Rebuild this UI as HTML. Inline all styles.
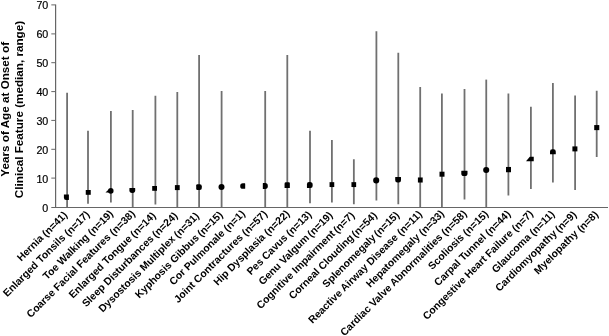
<!DOCTYPE html>
<html><head><meta charset="utf-8"><title>Chart</title>
<style>
html,body{margin:0;padding:0;background:#fff;}
body{width:609px;height:336px;overflow:hidden;}
svg{display:block;}
text{font-family:"Liberation Sans",sans-serif;fill:#000;}
.tk{font-size:10.7px;fill:#000;stroke:#000;stroke-width:0.2px;}
.b{font-size:10.4px;font-weight:bold;}
.t{font-size:11.7px;font-weight:bold;}
</style></head><body>
<svg width="609" height="336" viewBox="0 0 609 336">
<rect width="609" height="336" fill="#fff"/>
<g stroke="#707070" stroke-width="1.8" fill="none">
<line x1="67.1" y1="92.75" x2="67.1" y2="208.0"/>
<line x1="88.0" y1="130.75" x2="88.0" y2="203.75"/>
<line x1="110.9" y1="111" x2="110.9" y2="202.5"/>
<line x1="132.7" y1="110" x2="132.7" y2="208.0"/>
<line x1="155.4" y1="95.75" x2="155.4" y2="204.5"/>
<line x1="177.3" y1="92" x2="177.3" y2="207.5"/>
<line x1="199.1" y1="55" x2="199.1" y2="207.5"/>
<line x1="221.6" y1="91" x2="221.6" y2="207.5"/>
<line x1="265.2" y1="91" x2="265.2" y2="207.5"/>
<line x1="287.3" y1="55" x2="287.3" y2="207.5"/>
<line x1="310" y1="130.75" x2="310" y2="203.25"/>
<line x1="331.9" y1="140" x2="331.9" y2="202.5"/>
<line x1="353.85" y1="159.25" x2="353.85" y2="204.25"/>
<line x1="376.4" y1="31.25" x2="376.4" y2="200.5"/>
<line x1="398.3" y1="52.75" x2="398.3" y2="204.25"/>
<line x1="420.2" y1="87" x2="420.2" y2="208.0"/>
<line x1="441.9" y1="93.5" x2="441.9" y2="207.5"/>
<line x1="464.5" y1="89" x2="464.5" y2="199.5"/>
<line x1="486.25" y1="79.6" x2="486.25" y2="208.0"/>
<line x1="508.4" y1="93.5" x2="508.4" y2="195.5"/>
<line x1="530.9" y1="106.75" x2="530.9" y2="189"/>
<line x1="552.9" y1="83" x2="552.9" y2="182.5"/>
<line x1="575.1" y1="95.5" x2="575.1" y2="190"/>
<line x1="596.7" y1="90.75" x2="596.7" y2="157"/>
</g>
<g stroke="#666" stroke-width="1" fill="none">
<line x1="55.6" y1="4.4" x2="55.6" y2="207.5" stroke-width="1.2"/>
<line x1="51.3" y1="207.5" x2="608" y2="207.5"/>
<line x1="51.3" y1="4.9" x2="55.5" y2="4.9"/>
<line x1="51.3" y1="33.9" x2="55.5" y2="33.9"/>
<line x1="51.3" y1="62.7" x2="55.5" y2="62.7"/>
<line x1="51.3" y1="91.6" x2="55.5" y2="91.6"/>
<line x1="51.3" y1="120.4" x2="55.5" y2="120.4"/>
<line x1="51.3" y1="149.3" x2="55.5" y2="149.3"/>
<line x1="51.3" y1="178.1" x2="55.5" y2="178.1"/>
</g>
<text class="tk" x="48.3" y="9.30" text-anchor="end">70</text>
<text class="tk" x="48.3" y="38.30" text-anchor="end">60</text>
<text class="tk" x="48.3" y="67.10" text-anchor="end">50</text>
<text class="tk" x="48.3" y="96.00" text-anchor="end">40</text>
<text class="tk" x="48.3" y="124.80" text-anchor="end">30</text>
<text class="tk" x="48.3" y="153.70" text-anchor="end">20</text>
<text class="tk" x="48.3" y="182.50" text-anchor="end">10</text>
<text class="tk" x="48.3" y="211.50" text-anchor="end">0</text>
<text class="t" transform="translate(9.4,109.3) rotate(-90)" text-anchor="middle">Years of Age at Onset of</text>
<text class="t" transform="translate(22.9,109.5) rotate(-90)" text-anchor="middle">Clinical Feature (median, range)</text>
<g fill="#000">
<path d="M63.90 194.45 L68.90 194.45 L68.90 199.55 A0.5 0.5 0 0 1 68.40 200.05 L66.10 200.05 A2.2 2.2 0 0 1 63.90 197.85 L63.90 194.45 Z"/>
<path d="M85.75 190.00 L90.75 190.00 L90.75 194.80 L85.75 194.80 L85.75 190.00 Z"/>
<path d="M110.80 188.10 L110.80 188.10 A2.75 2.75 0 0 1 113.55 190.85 L113.55 190.95 A2.75 2.75 0 0 1 110.80 193.70 L110.80 193.70 A2.75 2.75 0 0 1 108.05 190.95 L108.05 190.85 A2.75 2.75 0 0 1 110.80 188.10 Z"/>
<path d="M105.50 192.40 L108.60 189.50 L109.80 192.40 Z"/>
<path d="M129.70 187.90 L134.90 187.90 A0.3 0.3 0 0 1 135.20 188.20 L135.20 190.30 A2.6 2.6 0 0 1 132.60 192.90 L132.00 192.90 A2.6 2.6 0 0 1 129.40 190.30 L129.40 188.20 A0.3 0.3 0 0 1 129.70 187.90 Z"/>
<path d="M152.20 186.00 L157.00 186.00 L157.00 190.80 L152.20 190.80 L152.20 186.00 Z"/>
<path d="M174.90 185.10 L179.70 185.10 L179.70 190.10 L174.90 190.10 L174.90 185.10 Z"/>
<path d="M197.40 184.25 L199.80 184.25 A2.0 2.0 0 0 1 201.80 186.25 L201.80 187.95 A2.0 2.0 0 0 1 199.80 189.95 L197.40 189.95 A1.2 1.2 0 0 1 196.20 188.75 L196.20 185.45 A1.2 1.2 0 0 1 197.40 184.25 Z"/>
<path d="M221.50 184.00 L221.50 184.00 A3.0 3.0 0 0 1 224.50 187.00 L224.50 187.00 A3.0 3.0 0 0 1 221.50 190.00 L221.50 190.00 A3.0 3.0 0 0 1 218.50 187.00 L218.50 187.00 A3.0 3.0 0 0 1 221.50 184.00 Z"/>
<path d="M242.80 183.35 L244.90 183.35 A0.3 0.3 0 0 1 245.20 183.65 L245.20 188.55 A0.3 0.3 0 0 1 244.90 188.85 L242.80 188.85 A2.6 2.6 0 0 1 240.20 186.25 L240.20 185.95 A2.6 2.6 0 0 1 242.80 183.35 Z"/>
<path d="M263.10 183.05 L265.20 183.05 A2.6 2.6 0 0 1 267.80 185.65 L267.80 186.35 A2.6 2.6 0 0 1 265.20 188.95 L263.10 188.95 A0.3 0.3 0 0 1 262.80 188.65 L262.80 183.35 A0.3 0.3 0 0 1 263.10 183.05 Z"/>
<path d="M286.00 182.37 L288.88 182.37 A0.96 0.96 0 0 1 289.84 183.33 L289.84 187.74 A0.288 0.288 0 0 1 289.55 188.03 L284.85 188.03 A0.288 0.288 0 0 1 284.56 187.74 L284.56 183.81 A1.44 1.44 0 0 1 286.00 182.37 Z"/>
<path d="M308.95 182.10 L310.05 182.10 A2.6 2.6 0 0 1 312.65 184.70 L312.65 185.90 A2.0 2.0 0 0 1 310.65 187.90 L307.45 187.90 A0.5 0.5 0 0 1 306.95 187.40 L306.95 184.10 A2.0 2.0 0 0 1 308.95 182.10 Z"/>
<path d="M329.55 182.15 L334.25 182.15 L334.25 187.05 L329.55 187.05 L329.55 182.15 Z"/>
<path d="M351.45 182.15 L356.15 182.15 L356.15 187.05 L351.45 187.05 L351.45 182.15 Z"/>
<path d="M376.20 177.35 L376.20 177.35 A3.05 3.05 0 0 1 379.25 180.40 L379.25 180.40 A3.05 3.05 0 0 1 376.20 183.45 L376.20 183.45 A3.05 3.05 0 0 1 373.15 180.40 L373.15 180.40 A3.05 3.05 0 0 1 376.20 177.35 Z"/>
<path d="M395.50 177.05 L400.70 177.05 A0.3 0.3 0 0 1 401.00 177.35 L401.00 180.35 A2.2 2.2 0 0 1 398.80 182.55 L397.40 182.55 A2.2 2.2 0 0 1 395.20 180.35 L395.20 177.35 A0.3 0.3 0 0 1 395.50 177.05 Z"/>
<path d="M417.90 177.46 L422.70 177.46 L422.70 182.54 L417.90 182.54 L417.90 177.46 Z"/>
<path d="M439.50 171.70 L444.50 171.70 L444.50 176.70 L439.50 176.70 L439.50 171.70 Z"/>
<path d="M461.60 170.80 L467.20 170.80 A0.3 0.3 0 0 1 467.50 171.10 L467.50 173.40 A2.6 2.6 0 0 1 464.90 176.00 L463.90 176.00 A2.6 2.6 0 0 1 461.30 173.40 L461.30 171.10 A0.3 0.3 0 0 1 461.60 170.80 Z"/>
<path d="M486.15 167.10 L486.25 167.10 A3.0 3.0 0 0 1 489.25 170.10 L489.25 170.10 A3.0 3.0 0 0 1 486.25 173.10 L486.15 173.10 A3.0 3.0 0 0 1 483.15 170.10 L483.15 170.10 A3.0 3.0 0 0 1 486.15 167.10 Z"/>
<path d="M506.00 166.96 L511.00 166.96 L511.00 172.24 L506.00 172.24 L506.00 166.96 Z"/>
<path d="M526.2 161.00 L529.8 156.65 L533.75 156.65 L533.75 161.25 L526.2 161.25 Z"/>
<path d="M552.23 149.25 L553.57 149.25 A2.2 2.2 0 0 1 555.77 151.45 L555.77 153.95 A0.2 0.2 0 0 1 555.57 154.15 L550.23 154.15 A0.2 0.2 0 0 1 550.02 153.95 L550.02 151.45 A2.2 2.2 0 0 1 552.23 149.25 Z"/>
<path d="M572.40 146.40 L577.40 146.40 L577.40 151.40 L572.40 151.40 L572.40 146.40 Z"/>
<path d="M594.21 125.06 L599.29 125.06 L599.29 130.14 L594.21 130.14 L594.21 125.06 Z"/>
</g>
<g transform="translate(70.00,214.4) rotate(-45)"><text class="b" x="-35.72" y="-1.0" text-anchor="end">Hernia</text><text class="b" x="-2.26" y="-0.5" text-anchor="end">(n=41)</text></g>
<g transform="translate(90.90,214.4) rotate(-45)"><text class="b" x="-34.66" y="-0.6" text-anchor="end">Enlarged Tonsils</text><text class="b" x="-0.85" y="0" text-anchor="end">(n=17)</text></g>
<g transform="translate(113.80,214.4) rotate(-45)"><text class="b" x="-33.81" y="-0.6" text-anchor="end">Toe Walking</text><text class="b" x="0.00" y="0" text-anchor="end">(n=19)</text></g>
<g transform="translate(135.60,214.4) rotate(-45)"><text class="b" x="-33.81" y="-0.6" text-anchor="end">Coarse Facial Features</text><text class="b" x="0.00" y="0" text-anchor="end">(n=38)</text></g>
<g transform="translate(158.30,214.4) rotate(-45)"><text class="b" x="-35.93" y="-0.6" text-anchor="end">Enlarged Tongue</text><text class="b" x="-2.69" y="0" text-anchor="end">(n=14)</text></g>
<g transform="translate(180.20,214.4) rotate(-45)"><text class="b" x="-35.93" y="-0.6" text-anchor="end">Sleep Disturbances</text><text class="b" x="-2.83" y="0" text-anchor="end">(n=24)</text></g>
<g transform="translate(202.00,214.4) rotate(-45)"><text class="b" x="-36.36" y="-0.6" text-anchor="end">Dysostosis Multiplex</text><text class="b" x="-3.11" y="0" text-anchor="end">(n=31)</text></g>
<g transform="translate(224.50,214.4) rotate(-45)"><text class="b" x="-34.52" y="-0.6" text-anchor="end">Kyphosis Gibbus</text><text class="b" x="-1.56" y="0" text-anchor="end">(n=15)</text></g>
<g transform="translate(245.60,214.4) rotate(-45)"><text class="b" x="-28.03" y="-0.6" text-anchor="end">Cor Pulmonale</text><text class="b" x="0.00" y="0" text-anchor="end">(n=1)</text></g>
<g transform="translate(268.10,214.4) rotate(-45)"><text class="b" x="-34.09" y="-0.6" text-anchor="end">Joint Contractures</text><text class="b" x="-0.28" y="0" text-anchor="end">(n=57)</text></g>
<g transform="translate(290.20,214.4) rotate(-45)"><text class="b" x="-33.81" y="-0.6" text-anchor="end">Hip Dysplasia</text><text class="b" x="0.00" y="0" text-anchor="end">(n=22)</text></g>
<g transform="translate(312.90,214.4) rotate(-45)"><text class="b" x="-34.52" y="-0.6" text-anchor="end">Pes Cavus</text><text class="b" x="-1.13" y="0" text-anchor="end">(n=13)</text></g>
<g transform="translate(334.80,214.4) rotate(-45)"><text class="b" x="-34.80" y="-0.6" text-anchor="end">Genu Valgum</text><text class="b" x="-2.12" y="0" text-anchor="end">(n=19)</text></g>
<g transform="translate(356.75,214.4) rotate(-45)"><text class="b" x="-29.02" y="-0.6" text-anchor="end">Cognitive Impairment</text><text class="b" x="-2.26" y="0" text-anchor="end">(n=7)</text></g>
<g transform="translate(379.30,214.4) rotate(-45)"><text class="b" x="-34.80" y="-0.6" text-anchor="end">Corneal Clouding</text><text class="b" x="-2.40" y="0" text-anchor="end">(n=54)</text></g>
<g transform="translate(401.20,214.4) rotate(-45)"><text class="b" x="-34.52" y="-0.6" text-anchor="end">Splenomegaly</text><text class="b" x="-1.84" y="0" text-anchor="end">(n=15)</text></g>
<g transform="translate(423.10,214.4) rotate(-45)"><text class="b" x="-34.23" y="-0.6" text-anchor="end">Reactive Airway Disease</text><text class="b" x="-0.42" y="0" text-anchor="end">(n=11)</text></g>
<g transform="translate(444.80,214.4) rotate(-45)"><text class="b" x="-33.81" y="-0.6" text-anchor="end">Hepatomegaly</text><text class="b" x="0.00" y="0" text-anchor="end">(n=33)</text></g>
<g transform="translate(467.40,214.4) rotate(-45)"><text class="b" x="-33.81" y="-0.6" text-anchor="end">Cardiac Valve Abnormalities</text><text class="b" x="0.00" y="0" text-anchor="end">(n=58)</text></g>
<g transform="translate(489.15,214.4) rotate(-45)"><text class="b" x="-34.09" y="-0.6" text-anchor="end">Scoliosis</text><text class="b" x="-0.28" y="0" text-anchor="end">(n=15)</text></g>
<g transform="translate(511.30,214.4) rotate(-45)"><text class="b" x="-34.09" y="-0.6" text-anchor="end">Carpal Tunnel</text><text class="b" x="-0.28" y="0" text-anchor="end">(n=44)</text></g>
<g transform="translate(533.80,214.4) rotate(-45)"><text class="b" x="-28.03" y="-0.6" text-anchor="end">Congestive Heart Failure</text><text class="b" x="0.00" y="0" text-anchor="end">(n=7)</text></g>
<g transform="translate(555.80,214.4) rotate(-45)"><text class="b" x="-33.81" y="-0.6" text-anchor="end">Glaucoma</text><text class="b" x="-0.71" y="0" text-anchor="end">(n=11)</text></g>
<g transform="translate(578.00,214.4) rotate(-45)"><text class="b" x="-28.45" y="-0.6" text-anchor="end">Cardiomyopathy</text><text class="b" x="-1.27" y="0" text-anchor="end">(n=9)</text></g>
<g transform="translate(599.60,214.4) rotate(-45)"><text class="b" x="-29.02" y="-0.6" text-anchor="end">Myelopathy</text><text class="b" x="-0.99" y="0" text-anchor="end">(n=8)</text></g>
</svg></body></html>
